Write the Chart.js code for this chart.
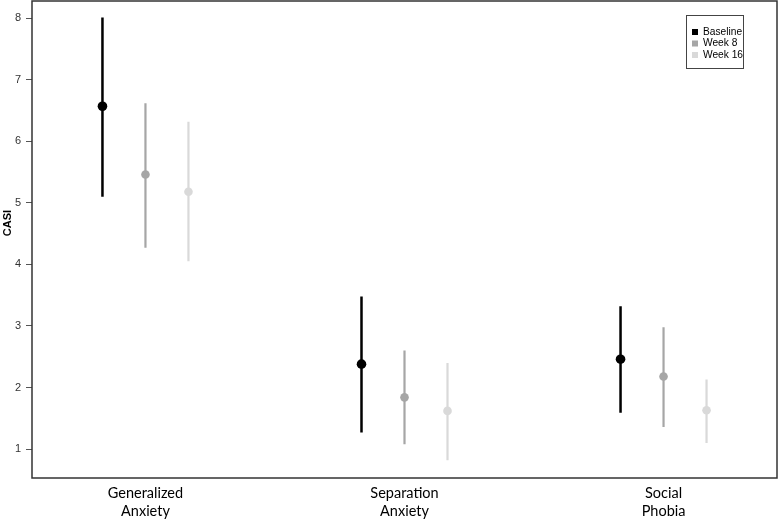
<!DOCTYPE html>
<html>
<head>
<meta charset="utf-8">
<script src="https://cdn.jsdelivr.net/npm/chart.js@4/dist/chart.umd.min.js"></script>
<style>
html,body{margin:0;padding:0;background:#fff;}
#c{display:block;}
</style>
</head>
<body>
<canvas id="c" width="778" height="519"></canvas>
<script>
// ---- data ----
const categories = [["Generalized","Anxiety"],["Separation","Anxiety"],["Social","Phobia"]];
const seriesNames = ["Baseline","Week 8","Week 16"];
const baselineMean = [6.57, 2.38, 2.46];
const baselineLow  = [5.10, 1.27, 1.59];
const baselineHigh = [8.01, 3.48, 3.32];
const week8Mean = [5.46, 1.84, 2.18];
const week8Low  = [4.27, 1.08, 1.36];
const week8High = [6.62, 2.60, 2.98];
const week16Mean = [5.18, 1.62, 1.63];
const week16Low  = [4.05, 0.82, 1.10];
const week16High = [6.32, 2.40, 2.13];
const yTicks = [1,2,3,4,5,6,7,8];

// ---- styling ----
const colors = ["#000000","#a6a6a6","#d9d9d9"];
const offsets = [-0.166, 0, 0.166];
const lineW = [2.5, 2.2, 2.2];
const radii = [4.8, 4.3, 4.3];

const series = [
  {mean: baselineMean, low: baselineLow, high: baselineHigh},
  {mean: week8Mean, low: week8Low, high: week8High},
  {mean: week16Mean, low: week16Low, high: week16High}
];

const datasets = [];
series.forEach((s, si) => {
  const whisk = [];
  s.mean.forEach((m, ci) => {
    const x = ci + 1 + offsets[si];
    whisk.push({x: x, y: s.low[ci]});
    whisk.push({x: x, y: s.high[ci]});
    whisk.push({x: x, y: null});
  });
  datasets.push({
    label: seriesNames[si] + " CI",
    type: 'line',
    data: whisk,
    showLine: true,
    spanGaps: false,
    borderColor: colors[si],
    borderWidth: lineW[si],
    pointRadius: 0,
    borderCapStyle: 'butt',
    order: 2
  });
});
series.forEach((s, si) => {
  datasets.push({
    label: seriesNames[si],
    type: 'scatter',
    data: s.mean.map((m, ci) => ({x: ci + 1 + offsets[si], y: m})),
    backgroundColor: colors[si],
    borderColor: colors[si],
    pointRadius: radii[si],
    pointBorderWidth: 0,
    order: 1
  });
});

const framePlugin = {
  id: 'frame',
  afterDraw(chart) {
    const {ctx, chartArea: a} = chart;
    ctx.save();
    ctx.strokeStyle = '#333';
    ctx.lineWidth = 1.5;
    ctx.strokeRect(a.left, a.top, a.right - a.left, a.bottom - a.top);

    // y-axis title
    ctx.fillStyle = '#000';
    ctx.font = 'bold 11px "Liberation Sans", Arial, sans-serif';
    ctx.textAlign = 'center';
    ctx.textBaseline = 'middle';
    ctx.translate(8, 223);
    ctx.rotate(-Math.PI / 2);
    ctx.fillText('CASI', 0, 0);
    ctx.restore();

    // legend
    ctx.save();
    const lx = 686, ly = 15, lw = 57, lh = 53;
    ctx.fillStyle = '#fff';
    ctx.fillRect(lx, ly, lw, lh);
    ctx.strokeStyle = '#444';
    ctx.lineWidth = 1;
    ctx.strokeRect(lx + 0.5, ly + 0.5, lw, lh);
    ctx.font = '10.2px "Liberation Sans", Arial, sans-serif';
    ctx.textAlign = 'left';
    ctx.textBaseline = 'middle';
    const rows = [32, 43.5, 55];
    seriesNames.forEach((n, i) => {
      ctx.fillStyle = colors[i];
      ctx.fillRect(692, rows[i] - 3, 6, 6);
      ctx.fillStyle = '#000';
      ctx.fillText(n, 703, rows[i]);
    });
    ctx.restore();
  }
};

new Chart(document.getElementById('c'), {
  type: 'scatter',
  data: {datasets},
  options: {
    responsive: false,
    animation: false,
    events: [],
    layout: {autoPadding: false, padding: {top: 1, right: 1, left: 0, bottom: 0}},
    plugins: {legend: {display: false}, tooltip: {enabled: false}},
    scales: {
      x: {
        type: 'linear',
        min: 0.562,
        max: 3.438,
        grid: {display: false, drawTicks: false},
        border: {display: false},
        afterBuildTicks(scale) { scale.ticks = categories.map((c, i) => ({value: i + 1})); },
        afterFit(scale) { scale.height = 41; scale.paddingLeft = 0; scale.paddingRight = 0; },
        ticks: {
          autoSkip: false,
          maxRotation: 0,
          padding: 6,
          color: '#000',
          font: {family: 'Lato, "Open Sans", sans-serif', size: 14.5, lineHeight: '18px'},
          callback(v) { return categories[Math.round(v) - 1]; }
        }
      },
      y: {
        type: 'linear',
        min: 0.53,
        max: 8.28,
        grid: {drawOnChartArea: false, drawTicks: true, tickLength: 6, color: '#555', lineWidth: 1},
        border: {display: false},
        afterBuildTicks(scale) { scale.ticks = yTicks.map(v => ({value: v})); },
        afterFit(scale) { scale.width = 32; scale.paddingTop = 0; scale.paddingBottom = 0; },
        ticks: {
          padding: 5,
          color: '#333',
          font: {family: '"Liberation Sans", Arial, sans-serif', size: 11}
        }
      }
    }
  },
  plugins: [framePlugin]
});
</script>
</body>
</html>
